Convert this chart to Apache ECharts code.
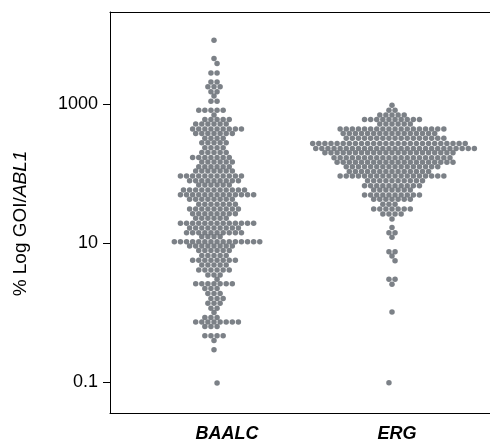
<!DOCTYPE html>
<html><head><meta charset="utf-8">
<script src="https://cdn.jsdelivr.net/npm/echarts@6/dist/echarts.min.js"></script>
<style>html,body{margin:0;padding:0;background:#fff}#c{width:490px;height:446px}</style>
</head><body><div id="c"></div>
<script>
const categories = ['BAALC', 'ERG'];
// row levels (values) and number of patients at each level
const baalcLevels = [8400, 4580, 3880, 2840, 2110, 1790, 1520, 1320, 1115, 828, 702, 609, 521, 442, 383, 325, 281, 238, 204, 173, 148, 127, 110, 93.3, 79.8, 69.3, 58.7, 50.2, 43.2, 36.6, 31.3, 26.8, 23.0, 19.5, 16.7, 14.3, 12.5, 10.6, 9.2, 7.88, 6.68, 5.74, 4.91, 4.16, 3.52, 3.06, 2.62, 2.24, 1.90, 1.61, 1.38, 1.17, 1.01, 0.859, 0.738, 0.638, 0.469, 0.401, 0.295, 0.098];
const baalcCounts = [1,1,1,2,2,3,2,1,2,5, 1,5,6,9,7,4,5,4,5,7, 6,6,7,11,9,6,11,13,8,7, 9,8,6,13,9,10,4,15,8,6, 5,8,5,6,3,1,7,3,3,3, 3,2,1,3,8,3,4,1,1,1];
const ergLevels = [977, 828, 702, 609, 521, 442, 383, 325, 275, 233, 202, 171, 147, 127, 108, 93.3, 79.8, 67.7, 58.7, 49.8, 43.2, 36.6, 31.3, 26.5, 22.5, 16.9, 14.3, 12.3, 7.62, 6.61, 5.61, 3.06, 2.59, 1.03, 0.099];
const ergCounts = [1,2,5,10,6,18,16,17,26,27, 22,20,20,16,14,18,10,10,7,10, 7,3,7,4,1,1,2,1,2,1, 1,2,1,1,1];
const yTickValues = [0.1, 10, 1000];
const yTickLabels = ['0.1', '10', '1000'];

const FONT = "'Liberation Sans', Arial, Helvetica, sans-serif";
const W = 490;
const GRID = {left: 110, right: 0, top: 12, bottom: 33};
const X_MIN = 0.4157, X_MAX = 2.5506;
const Y_MIN = -1.44, Y_MAX = 4.33;
const DOT_PX = 6.1;
const ROW_LOG = 0.068;
const dx = DOT_PX * (X_MAX - X_MIN) / (W - GRID.left - GRID.right);

function swarm(levels, counts, center) {
  const pts = [];
  let parity = 0, prev = null, flip = 1;
  levels.forEach((v, i) => {
    const lv = Math.log10(v);
    if (prev !== null) {
      const steps = Math.max(1, Math.round((prev - lv) / ROW_LOG));
      parity = (parity + steps) % 2;
    }
    prev = lv;
    const n = counts[i];
    const natural = (n % 2 === 0) ? 1 : 0;
    let shift = 0;
    if (natural !== parity) { shift = 0.5 * flip; flip = -flip; }
    for (let j = 0; j < n; j++) {
      pts.push([center + (j - (n - 1) / 2 + shift) * dx, lv]);
    }
  });
  return pts;
}

const chart = echarts.init(document.getElementById('c'), null, {renderer: 'canvas'});
const dotStyle = {color: '#5b6169'};
chart.setOption({
  animation: false,
  backgroundColor: '#fff',
  grid: {left: GRID.left, right: GRID.right, top: GRID.top, bottom: GRID.bottom},
  xAxis: [{
    type: 'value', min: X_MIN, max: X_MAX, position: 'bottom',
    axisLine: {show: true, onZero: false, lineStyle: {color: '#000', width: 1}},
    axisTick: {show: false}, splitLine: {show: false},
    axisLabel: {
      customValues: [1.073, 2.028],
      formatter: v => categories[Math.round(v) - 1],
      fontSize: 18, fontWeight: 'bold', fontStyle: 'italic', color: '#000', fontFamily: FONT, margin: 12
    }
  }, {
    type: 'value', min: X_MIN, max: X_MAX, position: 'top',
    axisLine: {show: true, onZero: false, lineStyle: {color: '#000', width: 1}},
    axisTick: {show: false}, axisLabel: {show: false}, splitLine: {show: false}
  }],
  yAxis: {
    type: 'value', min: Y_MIN, max: Y_MAX,
    axisLine: {show: true, onZero: false, lineStyle: {color: '#000', width: 1}},
    axisTick: {show: true, customValues: yTickValues.map(Math.log10), length: 7, lineStyle: {color: '#000', width: 1}},
    axisLabel: {
      customValues: yTickValues.map(Math.log10),
      formatter: v => yTickLabels[yTickValues.findIndex(t => Math.abs(Math.log10(t) - v) < 1e-6)],
      fontSize: 18, color: '#000', fontFamily: FONT, margin: 12
    },
    splitLine: {show: false},
    name: '{a|% Log GOI/}{b|ABL1}',
    nameLocation: 'middle', nameGap: 80, nameRotate: 90,
    nameTextStyle: {
      padding: [0, 22, 0, 0],
      rich: {
        a: {fontSize: 19, color: '#000', fontFamily: FONT},
        b: {fontSize: 19, color: '#000', fontFamily: FONT, fontStyle: 'italic'}
      }
    }
  },
  series: [
    {type: 'scatter', name: categories[0], data: swarm(baalcLevels, baalcCounts, 1), symbolSize: 5.5, itemStyle: dotStyle},
    {type: 'scatter', name: categories[1], data: swarm(ergLevels, ergCounts, 2), symbolSize: 5.5, itemStyle: dotStyle}
  ]
});
</script>
</body></html>
